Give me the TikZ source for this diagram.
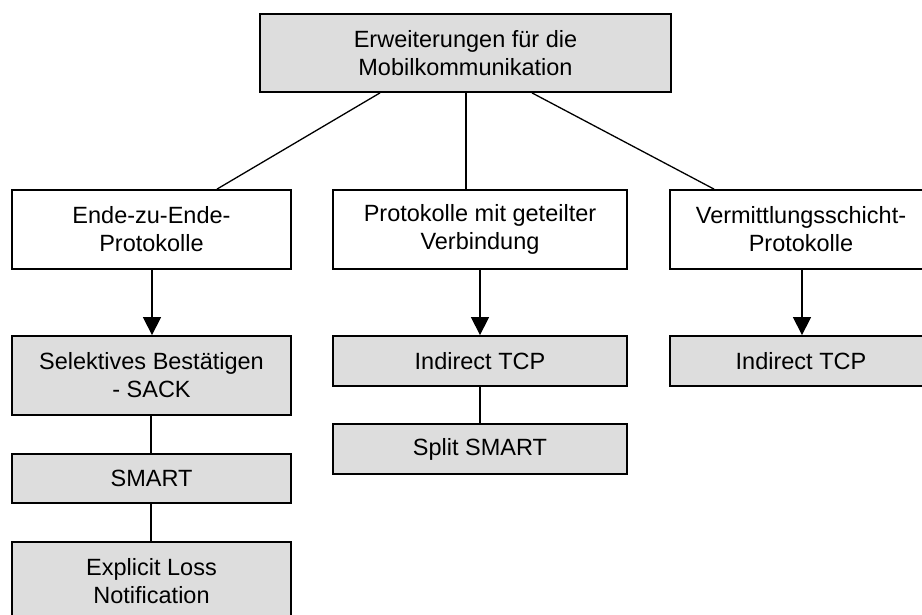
\documentclass[tikz,border=0pt]{standalone}
\usepackage{fontspec}
\setmainfont{Liberation Sans}
\usetikzlibrary{arrows.meta}
\definecolor{boxgray}{HTML}{DDDDDD}
\tikzset{
  box/.style={draw=black, line width=1.8pt, fill=white, align=center,
    inner sep=0pt, font=\fontsize{23.5}{28}\selectfont},
  graybox/.style={box, fill=boxgray},
  link/.style={draw=black, line width=1.3pt},
  arrowlink/.style={link, -{Triangle[width=18pt,length=18pt]}}
}
\begin{document}
\begin{tikzpicture}[x=1pt, y=-1pt]
  \useasboundingbox (0,0) rectangle (922,615);
  \clip (0,0) rectangle (922,615);

  % root
  \node[graybox, minimum width=411pt, minimum height=78pt] (root) at (465.5,53)
    {Erweiterungen für die\\Mobilkommunikation};

  % three categories
  \node[box, minimum width=279pt, minimum height=79pt] (e2e) at (151.5,229.5)
    {Ende-zu-Ende-\\Protokolle};
  \node[box, minimum width=294pt, minimum height=79pt] (split) at (480,229.5)
    {Protokolle mit geteilter\\Verbindung};
  \node[box, minimum width=262pt, minimum height=79pt] (net) at (801,229.5)
    {Vermittlungsschicht-\\Protokolle};

  % end-to-end approaches
  \node[graybox, minimum width=279pt, minimum height=79pt] (sack) at (151.5,375.5)
    {Selektives Bestätigen\\- SACK};
  \node[graybox, minimum width=279pt, minimum height=49pt] (smart) at (151.5,478.5)
    {SMART};
  \node[graybox, minimum width=279pt, minimum height=79pt] (eln) at (151.5,581.5)
    {Explicit Loss\\Notification};

  % split-connection approaches
  \node[graybox, minimum width=294pt, minimum height=50pt] (itcpA) at (480,361)
    {Indirect TCP};
  \node[graybox, minimum width=294pt, minimum height=50pt] (ssmart) at (480,449)
    {Split SMART};

  % network-layer approaches
  \node[graybox, minimum width=262pt, minimum height=50pt] (itcpB) at (801,361)
    {Indirect TCP};

  % tree edges from the root
  \draw[link] (root.south -| 380,0) -- (e2e.north -| 217,0);
  \draw[link] (root.south -| 466,0) -- (split.north -| 466,0);
  \draw[link] (root.south -| 532,0) -- (net.north -| 714,0);

  % arrows into the first approach of each category
  \draw[arrowlink] (e2e.south -| 152,0) -- (sack.north -| 152,0);
  \draw[arrowlink] (split.south) -- (itcpA.north);
  \draw[arrowlink] (net.south -| 802,0) -- (itcpB.north -| 802,0);

  % further approaches
  \draw[link] (sack.south -| 151,0) -- (smart.north -| 151,0);
  \draw[link] (smart.south -| 151,0) -- (eln.north -| 151,0);
  \draw[link] (itcpA.south) -- (ssmart.north);
\end{tikzpicture}
\end{document}
